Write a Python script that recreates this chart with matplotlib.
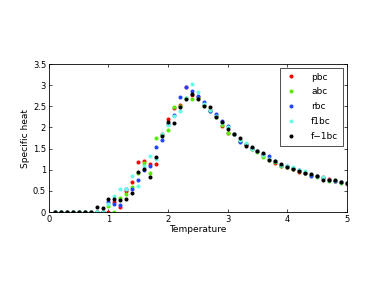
import numpy as np
from matplotlib import pyplot as plt

# temperatures 0.1 ... 5.0
temperature = np.arange(1, 51) / 10.0

zeros = [0.0] * 7
pbc = zeros + [0, 0, 0, 0.25, 0.12, 0.50, 0.72, 1.18, 1.20, 1.14,
               1.13, 1.85, 2.20, 2.45, 2.53, 2.96, 2.76, 2.73, 2.52, 2.42,
               2.28, 2.03, 1.88, 1.84, 1.68, 1.58, 1.50, 1.44, 1.36, 1.25,
               1.15, 1.10, 1.06, 1.03, 0.95, 0.92, 0.88, 0.85, 0.82, 0.78,
               0.74, 0.71, 0.66]
abc = zeros + [0, 0, 0.15, 0, 0.33, 0.42, 0.60, 0.93, 1.15, 0.92,
               1.75, 1.82, 1.95, 2.48, 2.50, 2.70, 2.68, 2.70, 2.50, 2.40,
               2.25, 2.05, 1.87, 1.84, 1.68, 1.60, 1.48, 1.43, 1.30, 1.24,
               1.18, 1.08, 1.06, 1.02, 0.97, 0.92, 0.87, 0.83, 0.80, 0.74,
               0.73, 0.69, 0.68]
rbc = zeros + [0, 0, 0.25, 0.20, 0.16, 0.55, 0.55, 0.75, 1.00, 1.08,
               1.55, 1.70, 2.08, 2.30, 2.72, 2.95, 2.86, 2.75, 2.60, 2.38,
               2.32, 2.15, 2.03, 1.85, 1.65, 1.60, 1.52, 1.45, 1.38, 1.32,
               1.20, 1.12, 1.08, 1.05, 1.00, 0.93, 0.85, 0.86, 0.80, 0.77,
               0.73, 0.70, 0.68]
f1bc = zeros + [0, 0, 0.20, 0.38, 0.54, 0.55, 0.85, 0.62, 1.10, 1.32,
                1.25, 1.85, 2.05, 2.28, 2.38, 2.70, 3.02, 2.83, 2.55, 2.42,
                2.28, 2.10, 2.00, 1.84, 1.70, 1.63, 1.50, 1.44, 1.35, 1.26,
                1.20, 1.12, 1.08, 1.06, 1.00, 0.96, 0.90, 0.85, 0.82, 0.77,
                0.75, 0.71, 0.68]
fm1bc = zeros + [0.12, 0.10, 0.32, 0.32, 0.28, 0.32, 0.45, 0.95, 1.02, 0.84,
                 1.30, 1.80, 2.12, 2.10, 2.48, 2.68, 2.80, 2.67, 2.50, 2.48,
                 2.25, 2.12, 1.97, 1.84, 1.75, 1.57, 1.55, 1.45, 1.40, 1.22,
                 1.20, 1.13, 1.06, 1.03, 0.98, 0.92, 0.90, 0.85, 0.76, 0.76,
                 0.75, 0.72, 0.68]

series = [pbc, abc, rbc, f1bc, fm1bc]
labels = ['pbc', 'abc', 'rbc', 'f1bc', 'f\u22121bc']
colors = ['#ff0000', '#55ee00', '#2244ff', '#66ffe6', '#000000']

fig = plt.figure(figsize=(3.82, 2.87), dpi=100)
ax = fig.add_axes([0.128, 0.261, 0.780, 0.516])

for data, lab, col in zip(series, labels, colors):
    ax.plot(temperature, data, 'o', color=col, markersize=2.9,
            markeredgewidth=0, label=lab)

ax.set_xlim(0, 5)
ax.set_ylim(0, 3.5)
ax.set_xticks([0, 1, 2, 3, 4, 5])
ax.set_yticks(np.arange(0, 3.51, 0.5))
ax.set_yticklabels(['0', '0.5', '1', '1.5', '2', '2.5', '3', '3.5'])
ax.tick_params(direction='in', length=2.5, width=0.5, labelsize=6,
               top=True, right=True, pad=2)
for s in ax.spines.values():
    s.set_linewidth(0.6)

ax.set_xlabel('Temperature', fontsize=6.5, labelpad=1)
ax.set_ylabel('Specific heat', fontsize=6.5, labelpad=2)

leg = ax.legend(loc='upper right', fontsize=6.5, frameon=True, fancybox=False,
                edgecolor='black', borderaxespad=0.45, handletextpad=1.5,
                handlelength=1.4, labelspacing=0.65, borderpad=0.5,
                markerscale=1.0)
leg.get_frame().set_linewidth(0.6)

fig.savefig('out.png', dpi=100)
plt.close()
